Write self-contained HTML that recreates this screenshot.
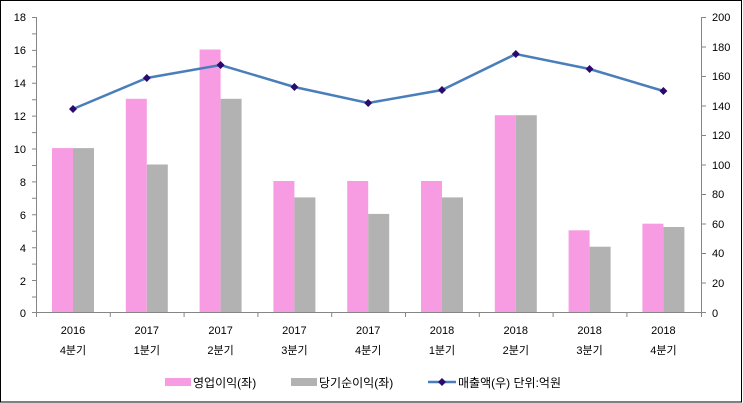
<!DOCTYPE html>
<html><head><meta charset="utf-8"><style>
html,body{margin:0;padding:0;background:#fff}
svg{display:block}
text{font-family:"Liberation Sans","Noto Sans CJK KR",sans-serif;font-size:11px;fill:#000}
</style></head><body>
<svg width="743" height="403" viewBox="0 0 743 403">
<rect x="0.5" y="0.5" width="741" height="401.5" fill="#fff" stroke="#000" stroke-width="1"/>
<g fill="#f79ce2">
<rect x="52" y="148.1" width="21" height="164.4"/>
<rect x="125.8" y="98.8" width="21" height="213.7"/>
<rect x="199.6" y="49.5" width="21" height="263"/>
<rect x="273.4" y="181" width="21" height="131.5"/>
<rect x="347.2" y="181" width="21" height="131.5"/>
<rect x="421" y="181" width="21" height="131.5"/>
<rect x="494.8" y="115.2" width="21" height="197.3"/>
<rect x="568.6" y="230.3" width="21" height="82.2"/>
<rect x="642.4" y="223.7" width="21" height="88.8"/>
</g>
<g fill="#b2b2b2">
<rect x="73" y="148.1" width="21" height="164.4"/>
<rect x="146.8" y="164.5" width="21" height="148"/>
<rect x="220.6" y="98.8" width="21" height="213.7"/>
<rect x="294.4" y="197.4" width="21" height="115.1"/>
<rect x="368.2" y="213.9" width="21" height="98.6"/>
<rect x="442" y="197.4" width="21" height="115.1"/>
<rect x="515.8" y="115.2" width="21" height="197.3"/>
<rect x="589.6" y="246.7" width="21" height="65.8"/>
<rect x="663.4" y="227" width="21" height="85.5"/>
</g>
<g stroke="#868686" stroke-width="1" fill="none">
<line x1="36.5" y1="17" x2="36.5" y2="312.5"/>
<line x1="701.5" y1="17" x2="701.5" y2="312.5"/>
<line x1="32" y1="312.5" x2="706" y2="312.5"/>
<path d="M32 17.5h5M32 33.9h5M32 50.4h5M32 66.8h5M32 83.3h5M32 99.7h5M32 116.1h5M32 132.6h5M32 149h5M32 165.5h5M32 181.9h5M32 198.3h5M32 214.8h5M32 231.2h5M32 247.7h5M32 264.1h5M32 280.5h5M32 297h5"/>
<path d="M701 17.5h5M701 47h5M701 76.5h5M701 106h5M701 135.5h5M701 165h5M701 194.5h5M701 224h5M701 253.5h5M701 283h5"/>
<path d="M110.3 312v5M184.1 312v5M257.9 312v5M331.7 312v5M405.5 312v5M479.3 312v5M553.1 312v5M626.9 312v5M36.5 312v5M701.5 312v5"/>
</g>
<g text-anchor="end">
<text x="26" y="21">18</text><text x="26" y="54">16</text><text x="26" y="87">14</text><text x="26" y="120">12</text><text x="26" y="153">10</text><text x="26" y="186">8</text><text x="26" y="219">6</text><text x="26" y="252">4</text><text x="26" y="285">2</text><text x="26" y="317">0</text>
</g>
<g text-anchor="start">
<text x="712" y="21">200</text><text x="712" y="51">180</text><text x="712" y="80">160</text><text x="712" y="110">140</text><text x="712" y="139">120</text><text x="712" y="169">100</text><text x="712" y="198">80</text><text x="712" y="228">60</text><text x="712" y="257">40</text><text x="712" y="287">20</text><text x="712" y="317">0</text>
</g>
<polyline points="73,109 146.8,78 220.6,65 294.4,87 368.2,103 442,90 515.8,54 589.6,69 663.4,91" fill="none" stroke="#4a7ebb" stroke-width="2.5"/>
<g fill="#2a0a6e">
<path d="M73 105l4 4-4 4-4-4z"/><path d="M146.8 74l4 4-4 4-4-4z"/><path d="M220.6 61l4 4-4 4-4-4z"/><path d="M294.4 83l4 4-4 4-4-4z"/><path d="M368.2 99l4 4-4 4-4-4z"/><path d="M442 86l4 4-4 4-4-4z"/><path d="M515.8 50l4 4-4 4-4-4z"/><path d="M589.6 65l4 4-4 4-4-4z"/><path d="M663.4 87l4 4-4 4-4-4z"/>
</g>
<g text-anchor="middle" style="font-size:12px">
<text x="73" y="334">2016</text><text x="73" y="354">4분기</text>
<text x="146.8" y="334">2017</text><text x="146.8" y="354">1분기</text>
<text x="220.6" y="334">2017</text><text x="220.6" y="354">2분기</text>
<text x="294.4" y="334">2017</text><text x="294.4" y="354">3분기</text>
<text x="368.2" y="334">2017</text><text x="368.2" y="354">4분기</text>
<text x="442" y="334">2018</text><text x="442" y="354">1분기</text>
<text x="515.8" y="334">2018</text><text x="515.8" y="354">2분기</text>
<text x="589.6" y="334">2018</text><text x="589.6" y="354">3분기</text>
<text x="663.4" y="334">2018</text><text x="663.4" y="354">4분기</text>
</g>
<rect x="165" y="378" width="26" height="8" fill="#f79ce2"/>
<text x="193" y="387" style="font-size:12px">영업이익(좌)</text>
<rect x="291" y="378" width="26" height="8" fill="#b2b2b2"/>
<text x="319" y="387" style="font-size:12px">당기순이익(좌)</text>
<line x1="428" y1="382" x2="456" y2="382" stroke="#4a7ebb" stroke-width="2.5"/>
<path d="M442 378l4 4-4 4-4-4z" fill="#2a0a6e"/>
<text x="458" y="387" style="font-size:12px">매출액(우)  단위:억원</text>
</svg>
</body></html>
